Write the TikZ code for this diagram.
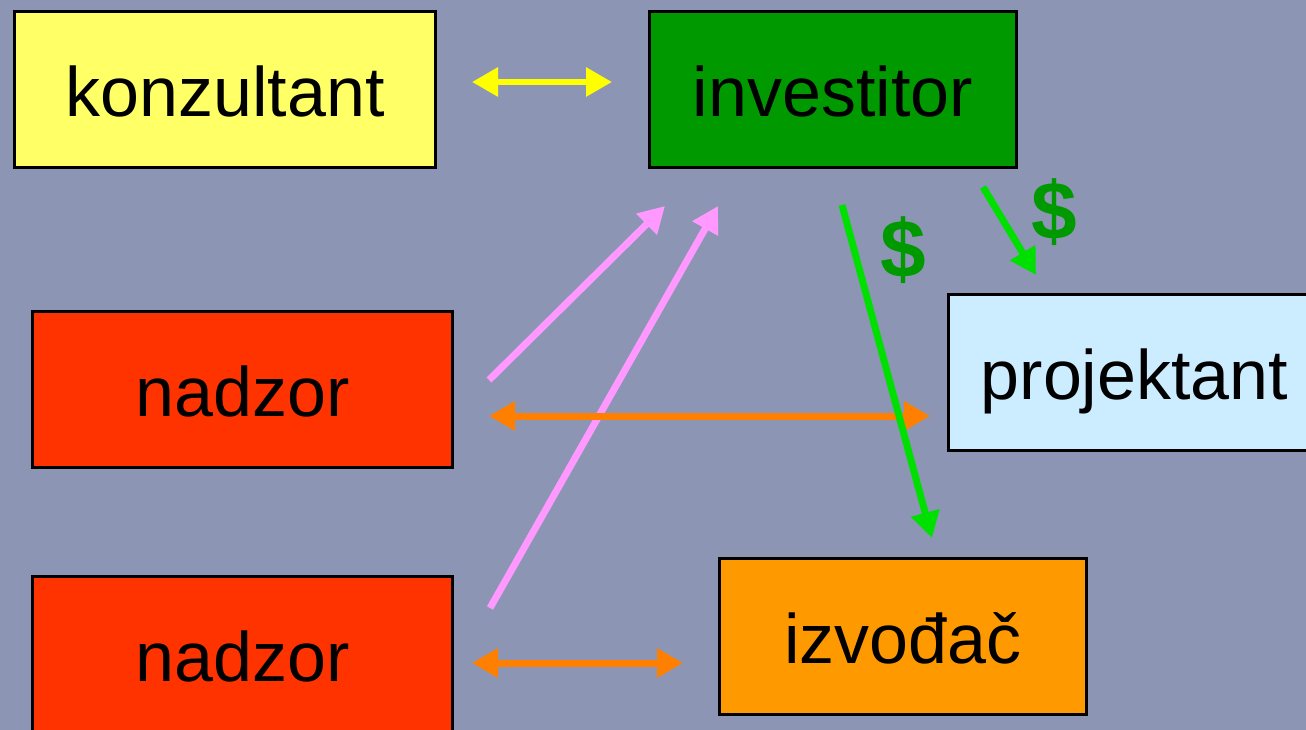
\documentclass[tikz,border=0pt]{standalone}
\usepackage{fontspec}
\setmainfont{Liberation Sans}
\usetikzlibrary{positioning}
\usetikzlibrary{arrows.meta}

\definecolor{bgblue}{RGB}{140,150,180}
\definecolor{konzyellow}{RGB}{255,255,102}
\definecolor{invgreen}{RGB}{0,153,0}
\definecolor{nadzred}{RGB}{255,51,0}
\definecolor{projblue}{RGB}{204,236,255}
\definecolor{izvorange}{RGB}{255,153,0}
\definecolor{linkyellow}{RGB}{255,255,0}
\definecolor{linkpink}{RGB}{255,153,255}
\definecolor{linkgreen}{RGB}{0,224,0}
\definecolor{linkorange}{RGB}{255,128,0}

\begin{document}
\begin{tikzpicture}[x=1pt,y=-1pt,
  box/.style={draw=black,line width=3pt,inner sep=0pt,minimum height=156pt,
    font=\fontsize{70}{84}\selectfont,text height=64pt,text depth=10pt},
  link/.style={line width=7pt,-{Triangle[length=26pt,width=28pt]}},
  both/.style={line width=7pt,{Triangle[length=26pt,width=28pt]}-{Triangle[length=26pt,width=28pt]}},
  cash/.style={text=invgreen,inner sep=0pt,font=\fontsize{82}{86}\selectfont\bfseries}]
\useasboundingbox (0,0) rectangle (1306,730);
\fill[bgblue] (0,0) rectangle (1306,730);

\node[box,fill=konzyellow,minimum width=421pt] (konz) at (225,89.5) {konzultant};
\node[box,fill=invgreen,minimum width=367pt] (inv) at (833,89.5) {investitor};
\node[box,fill=nadzred,minimum width=420pt] (nadz1) at (242.5,389) {nadzor};
\node[box,fill=nadzred,minimum width=420pt] (nadz2) at (242.5,654) {nadzor};
\node[box,fill=projblue,minimum width=372pt] (proj) at (1134.5,372) {projektant};
\node[box,fill=izvorange,minimum width=367pt] (izv) at (903,636.5) {izvođač};

% free ends of the arrows
\coordinate (konzR) at (472,82);
\coordinate (invL) at (612,82);
\coordinate (nadz1T) at (489,380);
\coordinate (invA) at (665,206);
\coordinate (nadz2T) at (490,608);
\coordinate (invB) at (718,206);
\coordinate (invC) at (842,205);
\coordinate (izvT) at (932,538);
\coordinate (invD) at (983,187);
\coordinate (projT) at (1036,275);
\coordinate (nadz1R) at (489,416);
\coordinate (projL) at (930,416);
\coordinate (nadz2R) at (472,663);
\coordinate (izvL) at (683,663);

\draw[both,line width=6pt,linkyellow] (konzR) -- (invL);
\draw[link,linkpink] (nadz1T) -- (invA);
\draw[link,linkpink] (nadz2T) -- (invB);
\draw[both,linkorange] (nadz1R) -- (projL);
\draw[link,linkgreen] (invC) -- (izvT);
\draw[link,linkgreen] (invD) -- (projT);
\draw[both,linkorange] (nadz2R) -- (izvL);

\node[cash] (cash1) at (903,250) {\$};
\node[cash] (cash2) at (1054,212) {\$};
\end{tikzpicture}
\end{document}
